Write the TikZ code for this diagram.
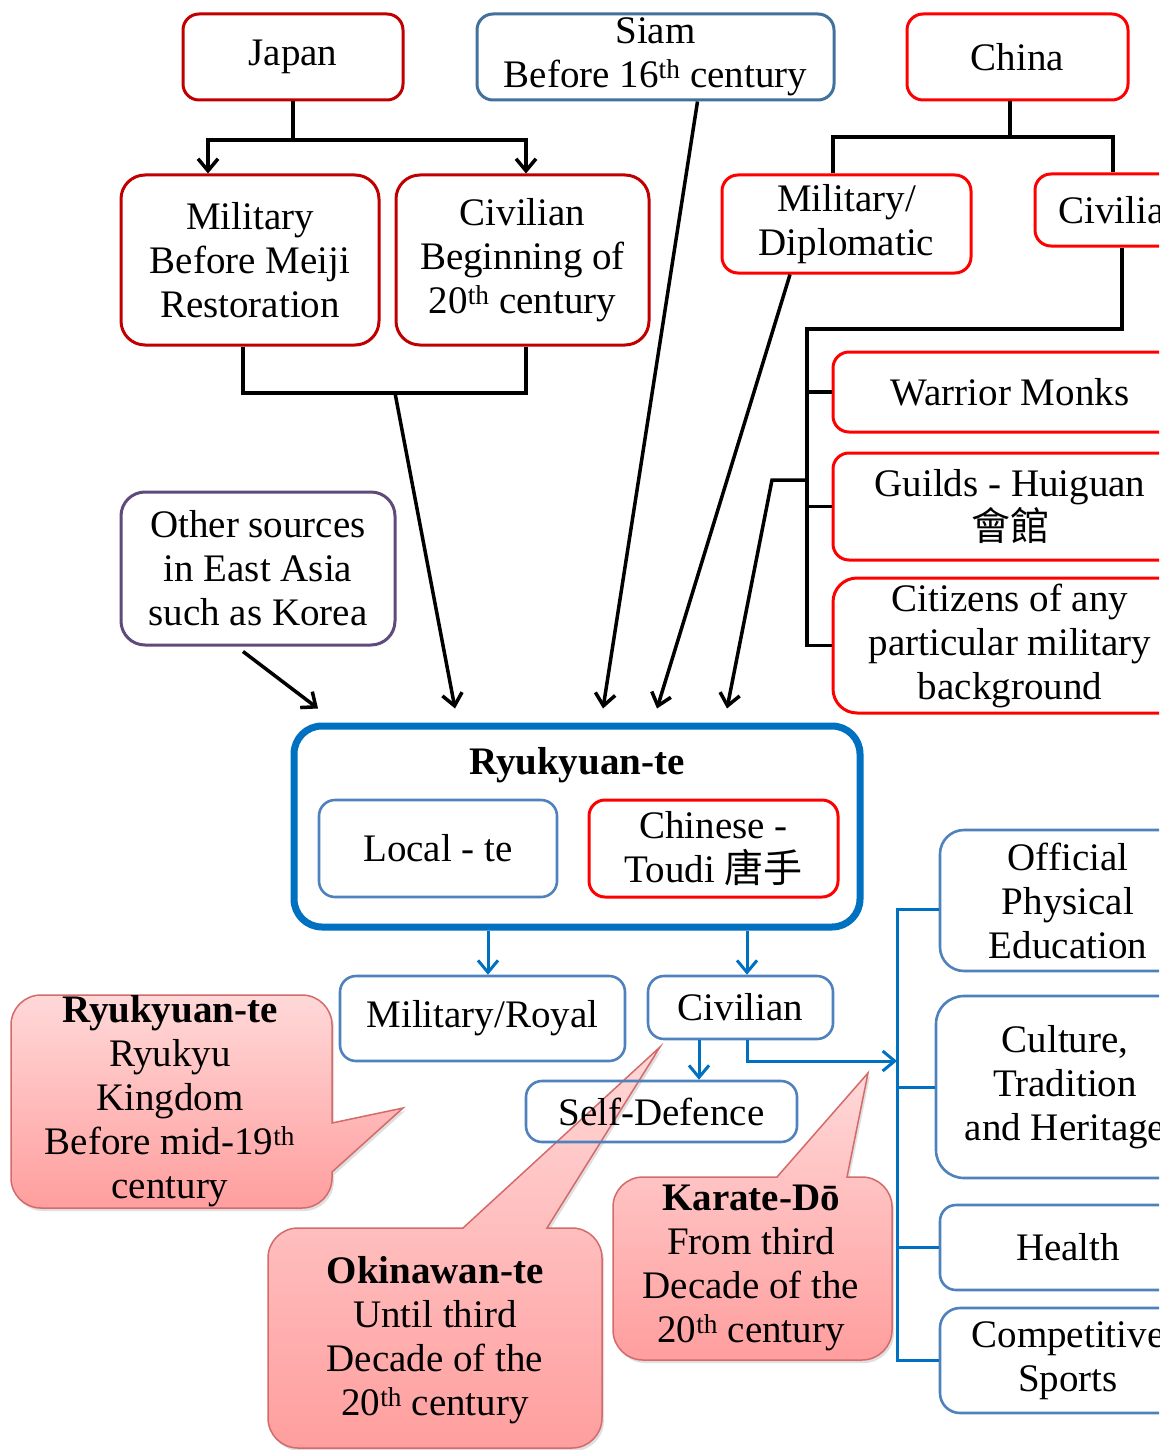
\documentclass[tikz,border=0pt]{standalone}
\usepackage{fontspec}
\setmainfont{Liberation Serif}
\newfontfamily\cjk{Noto Sans CJK TC}
\usetikzlibrary{arrows.meta,shadows,calc}
\definecolor{jred}{HTML}{C00000}
\definecolor{cred}{HTML}{FF0000}
\definecolor{bblue}{HTML}{4F81BD}
\definecolor{sblue}{HTML}{41719C}
\definecolor{dblue}{HTML}{0070C0}
\definecolor{purp}{HTML}{604A7B}
\definecolor{ctop}{HTML}{FFD8D8}
\definecolor{cbot}{HTML}{FF9E9E}
\definecolor{cborder}{HTML}{D46A6A}
\tikzset{
  box/.style={draw, rounded corners=16pt, line width=3pt, fill=white, align=center,
    inner sep=0pt, font=\fontsize{39}{44}\selectfont},
  jbox/.style={box, draw=jred},
  cbox/.style={box, draw=cred},
  bbox/.style={box, draw=bblue, line width=2.6pt},
  pbox/.style={box, draw=purp},
  blk/.style={draw=black, line width=3.5pt},
  bl/.style={draw=dblue, line width=3pt},
  arr/.style={-{Straight Barb[length=12pt,width=20pt]}},
  bubble/.style={draw=cborder, line width=1.5pt, top color=ctop, bottom color=cbot,
    drop shadow={shadow xshift=2pt, shadow yshift=-3pt, opacity=0.25}},
  ctext/.style={align=center, inner sep=0pt, font=\fontsize{39}{44}\selectfont},
}
\begin{document}
\begin{tikzpicture}[x=1pt,y=-1pt]
\useasboundingbox (0,0) rectangle (1159,1450);
\clip (0,0) rectangle (1159,1450);
\fill[white] (0,0) rectangle (1159,1450);

% top row
\node[jbox, minimum width=220pt, minimum height=86pt] (japan) at (293,57) {Japan};
\node[box, draw=sblue, minimum width=357pt, minimum height=86pt] (siam) at (655.5,57) {Siam\\Before 16\textsuperscript{th} century};
\node[cbox, minimum width=221pt, minimum height=86pt] (china) at (1017.5,57) {China};

% Japan branches
\node[jbox, rounded corners=24pt, minimum width=258pt, minimum height=170pt] (milmeiji) at (250,260) {Military\\Before Meiji\\Restoration};
\node[jbox, rounded corners=24pt, minimum width=253pt, minimum height=170pt] (civjp) at (522.5,260) {Civilian\\Beginning of\\20\textsuperscript{th} century};

% China branches
\node[cbox, minimum width=249pt, minimum height=98pt] (mildip) at (846.5,224) {Military/\\Diplomatic};
\node[cbox, minimum width=172pt, minimum height=72pt] (civcn) at (1121,210) {Civilian};
\node[cbox, minimum width=354pt, minimum height=80pt] (warrior) at (1010,392) {Warrior Monks};
\node[cbox, minimum width=354pt, minimum height=107pt] (guilds) at (1010,506.5) {Guilds - Huiguan\\{\cjk 會館}};
\node[cbox, rounded corners=24pt, minimum width=354pt, minimum height=135pt] (citizens) at (1010,645.5) {Citizens of any\\particular military\\background};

% other sources
\node[pbox, rounded corners=24pt, minimum width=274pt, minimum height=153pt] (other) at (258,568.5) {Other sources\\in East Asia\\such as Korea};

% central box
\node[draw=dblue, line width=7pt, rounded corners=28pt, minimum width=566pt, minimum height=201pt, fill=white] (ryu) at (577,826.5) {};
\node[ctext, font=\fontsize{39}{44}\selectfont\bfseries] (ryut) at (577,765) {Ryukyuan-te};
\node[bbox, minimum width=238pt, minimum height=97pt] (local) at (438,848.5) {Local - te};
\node[cbox, minimum width=249pt, minimum height=97pt] (toudi) at (713.5,848.5) {Chinese -\\Toudi {\cjk 唐手}};

% lower blue boxes
\node[bbox, minimum width=285pt, minimum height=85pt] (milroyal) at (482.5,1018.5) {Military/Royal};
\node[bbox, minimum width=185pt, minimum height=63pt] (civil) at (740.5,1007.5) {Civilian};

% right boxes
\node[bbox, rounded corners=24pt, minimum width=256pt, minimum height=141pt] (official) at (1068,900.5) {Official\\Physical\\Education};
\node[bbox, rounded corners=28pt, minimum width=258pt, minimum height=182pt] (culture) at (1065,1087) {Culture,\\Tradition\\and Heritage};
\node[bbox, minimum width=256pt, minimum height=85pt] (health) at (1068,1247.5) {Health};
\node[bbox, rounded corners=20pt, minimum width=256pt, minimum height=105pt] (compet) at (1068,1360.5) {Competitive\\Sports};

% Japan connectors
\coordinate (jj) at (293,140);
\draw[blk] (japan.south) -- (jj);
\draw[blk, arr] (jj) -| ([xshift=-42pt]milmeiji.north);
\draw[blk, arr] (jj) -| ([xshift=3.5pt]civjp.north);
\coordinate (jbot) at (395,393);
\draw[blk] ([xshift=-7pt]milmeiji.south) |- (jbot) -| ([xshift=3.5pt]civjp.south);
\draw[blk, arr] (jbot) -- ([xshift=-122pt,yshift=14pt]ryu.north);

% Siam
\draw[blk, arr] ([xshift=42pt]siam.south) -- ([xshift=26pt,yshift=14pt]ryu.north);

% China connectors
\coordinate (cj) at (1010,137);
\draw[blk] ([xshift=-7.5pt]china.south) -- (cj);
\draw[blk] ([xshift=-13.5pt]mildip.north) |- (cj) -| ([xshift=-8pt]civcn.north);
\draw[blk, arr] ([xshift=-56.5pt]mildip.south) -- ([xshift=80pt,yshift=14pt]ryu.north);
\coordinate (cv) at (807,329);
\draw[blk] ([xshift=1pt]civcn.south) |- (cv) |- (citizens.west);
\draw[blk] (cv |- warrior.west) -- (warrior.west);
\draw[blk] (cv |- guilds.west) -- (guilds.west);
\coordinate (cvb) at (807,480);
\coordinate (cvk) at (772,480);
\draw[blk, arr] (cvb) -- (cvk) -- ([xshift=150pt,yshift=14pt]ryu.north);

% other sources arrow
\draw[blk, arr] ([xshift=-15pt,yshift=-5pt]other.south) -- ([xshift=-259pt,yshift=14pt]ryu.north);

% blue connectors
\draw[bl, arr] ([xshift=-89pt]ryu.south) -- ([xshift=5.5pt]milroyal.north);
\draw[bl, arr] ([xshift=170pt]ryu.south) -- ([xshift=6.5pt]civil.north);
\coordinate (rb) at (897,1061);
\draw[bl, arr] ([xshift=6.5pt]civil.south) |- (rb);
\draw[bl] ([yshift=-8.5pt]official.west) -| (rb) |- (compet.west);
\draw[bl] (rb |- culture.west) -- (culture.west);
\draw[bl] (rb |- health.west) -- (health.west);

% callouts
\path[bubble] (11,1100) [rounded corners=30pt] -- (11,995) -- (332,995) [sharp corners] -- (332,1123) -- (403,1108) -- (332,1172) [rounded corners=30pt] -- (332,1208) -- (11,1208) -- cycle;
\node[ctext] (c1) at (170,1101) {\textbf{Ryukyuan-te}\\Ryukyu\\Kingdom\\Before mid-19\textsuperscript{th}\\century};

\path[bubble] (268,1340) [rounded corners=30pt] -- (268,1228) [sharp corners] -- (463,1228) -- (660,1047) -- (547,1228) [rounded corners=30pt] -- (602,1228) -- (602,1448) -- (268,1448) -- cycle;
\node[ctext] (c2) at (435,1340) {\textbf{Okinawan-te}\\Until third\\Decade of the\\20\textsuperscript{th} century};

\path[bubble] (613,1270) [rounded corners=30pt] -- (613,1177) [sharp corners] -- (777,1177) -- (868,1073) -- (847,1177) [rounded corners=30pt] -- (892,1177) -- (892,1360) -- (613,1360) -- cycle;
\node[ctext] (c3) at (751,1267.5) {\textbf{Karate-Dō}\\From third\\Decade of the\\20\textsuperscript{th} century};

% self-defence (over the pointer)
\node[bbox, fill=none, minimum width=271pt, minimum height=61pt] (self) at (661.5,1111.5) {Self-Defence};
\draw[bl, arr] ([xshift=-41.5pt]civil.south) -- ([xshift=37.5pt]self.north);
\end{tikzpicture}
\end{document}
